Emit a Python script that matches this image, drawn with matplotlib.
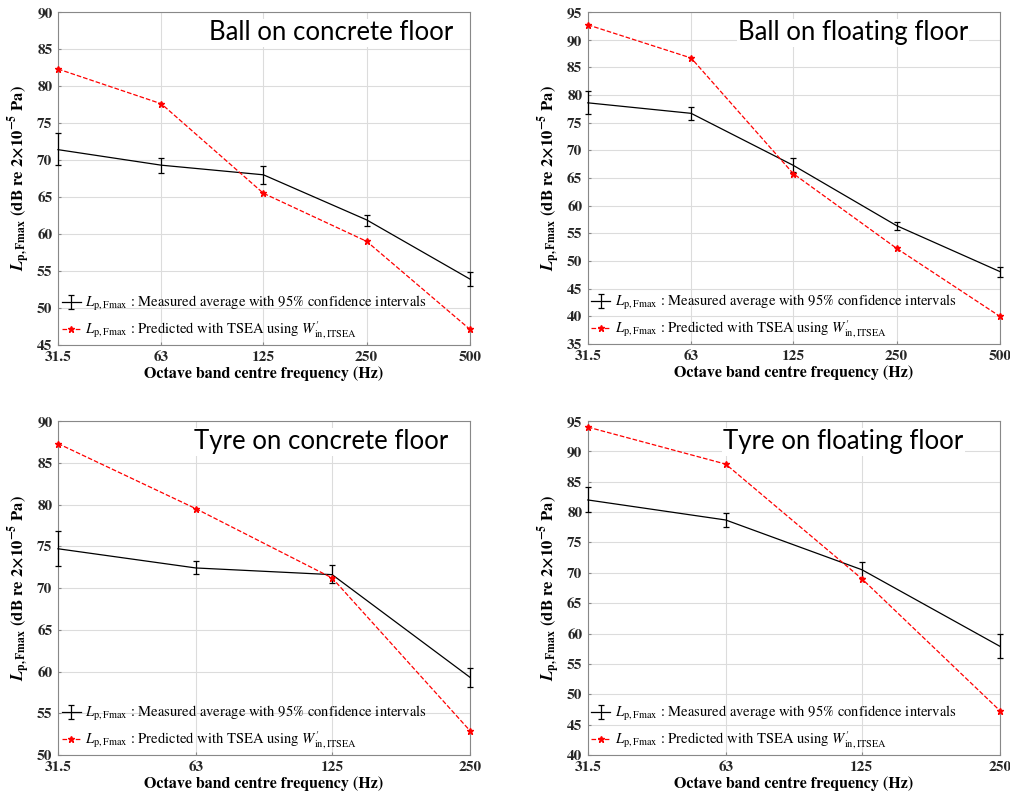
import numpy as np
import matplotlib.pyplot as plt

plt.rcParams['font.family'] = ['STIXGeneral', 'DejaVu Serif']
plt.rcParams['mathtext.fontset'] = 'stix'

freq_5 = [31.5, 63, 125, 250, 500]
freq_4 = [31.5, 63, 125, 250]
freq_labels = ["31.5", "63", "125", "250", "500"]

# ball on concrete floor
bc_meas = [71.4, 69.3, 68.0, 61.9, 53.9]
bc_lo = [69.3, 68.2, 66.8, 61.1, 53.0]
bc_hi = [73.6, 70.3, 69.2, 62.6, 54.8]
bc_pred = [82.3, 77.6, 65.5, 59.0, 47.1]

# ball on floating floor
bf_meas = [78.6, 76.7, 67.3, 56.4, 48.1]
bf_lo = [76.5, 75.5, 66.1, 55.6, 47.1]
bf_hi = [80.7, 77.9, 68.6, 57.0, 49.0]
bf_pred = [92.7, 86.7, 65.8, 52.3, 40.0]

# tyre on concrete floor
tc_meas = [74.7, 72.4, 71.6, 59.3]
tc_lo = [72.6, 71.7, 70.6, 58.1]
tc_hi = [76.8, 73.2, 72.7, 60.4]
tc_pred = [87.3, 79.5, 71.2, 52.9]

# tyre on floating floor
tf_meas = [82.0, 78.7, 70.5, 57.9]
tf_lo = [80.0, 77.6, 69.2, 55.9]
tf_hi = [84.1, 79.8, 71.7, 60.0]
tf_pred = [94.0, 87.9, 69.0, 47.3]

panels = [
    ("Ball on concrete floor", freq_5, bc_meas, bc_lo, bc_hi, bc_pred, (45, 90), [0.0574, 0.5666, 0.408, 0.4183], 0.367),
    ("Ball on floating floor", freq_5, bf_meas, bf_lo, bf_hi, bf_pred, (35, 95), [0.582, 0.5678, 0.408, 0.417], 0.364),
    ("Tyre on concrete floor", freq_4, tc_meas, tc_lo, tc_hi, tc_pred, (50, 90), [0.0574, 0.0515, 0.408, 0.4196], 0.33),
    ("Tyre on floating floor", freq_4, tf_meas, tf_lo, tf_hi, tf_pred, (40, 95), [0.582, 0.0515, 0.408, 0.4196], 0.328),
]

fig = plt.figure(figsize=(10.1, 7.96), dpi=100)

for title, f, meas, lo, hi, pred, ylim, pos, tx in panels:
    ax = fig.add_axes(pos)
    meas = np.array(meas)
    err = [meas - np.array(lo), np.array(hi) - meas]
    eb = ax.errorbar(f, meas, yerr=err, color='black', lw=0.9, elinewidth=0.9,
                     capsize=2.5, capthick=0.9, clip_on=False, zorder=3)
    pl, = ax.plot(f, pred, color='red', ls='--', lw=0.9, marker='*', ms=5,
                  clip_on=False, zorder=4)
    ax.set_xscale('log', base=2)
    ax.set_xlim(f[0], f[-1])
    ax.set_xticks(f)
    ax.set_xticklabels(freq_labels[:len(f)])
    ax.minorticks_off()
    ax.set_ylim(*ylim)
    ax.set_yticks(np.arange(ylim[0], ylim[1] + 1, 5))
    ax.grid(True, color='#dcdcdc', lw=0.8)
    ax.set_axisbelow(True)
    for s in ax.spines.values():
        s.set_color('#888888')
        s.set_linewidth(0.8)
    ax.tick_params(direction='in', length=2, color='#888888', labelsize=11, pad=4)
    for lab in ax.get_xticklabels() + ax.get_yticklabels():
        lab.set_fontweight('bold')
        lab.set_color('#262626')
    ax.set_xlabel("Octave band centre frequency (Hz)", fontsize=11.5, fontweight='bold', labelpad=2)
    ax.set_ylabel(r"$\mathbfit{L}_{\mathbf{p,Fmax}}$ (dB re 2$\mathbf{\times}$10$^{\mathbf{-5}}$ Pa)",
                  fontsize=12, fontweight='bold', labelpad=3)
    ax.legend([eb, pl],
              [r"$L_{\mathrm{p,Fmax}}$ : Measured average with 95% confidence intervals",
               r"$L_{\mathrm{p,Fmax}}$ : Predicted with TSEA using $W^{\prime}_{\mathrm{in,ITSEA}}$"],
              loc='lower left', frameon=False, fontsize=10.5, handlelength=1.3,
              handletextpad=0.3, labelspacing=0.45, borderaxespad=0.05, borderpad=0.2)
    # panel caption, white box hides the grid behind it
    ax.text(tx, 0.915, title, transform=ax.transAxes, ha='left', va='baseline',
            fontsize=18.5, family='Lato', color='black',
            bbox=dict(facecolor='white', edgecolor='none', pad=1))

fig.savefig("out.png", dpi=100)
